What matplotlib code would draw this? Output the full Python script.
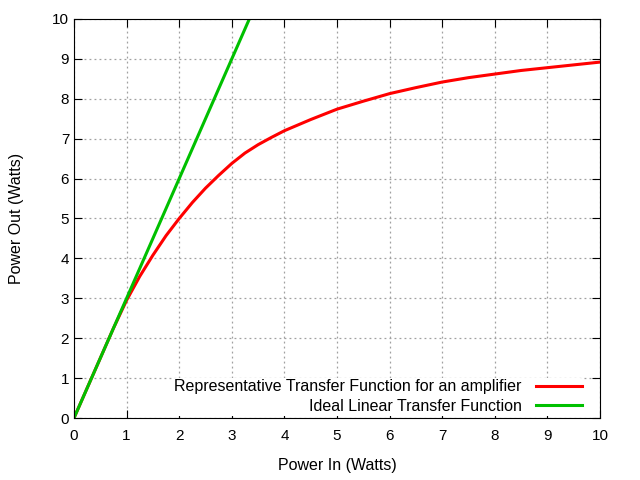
import matplotlib.pyplot as plt

plt.rcParams['font.family'] = ['Liberation Sans', 'DejaVu Sans']

# Representative amplifier transfer function
power_in = [0, 0.25, 0.5, 0.75, 1.0, 1.25, 1.5, 1.75, 2.0, 2.25, 2.5, 2.75,
            3.0, 3.25, 3.5, 3.75, 4.0, 4.5, 5.0, 5.5, 6.0, 6.5, 7.0, 7.5,
            8.0, 8.5, 9.0, 9.5, 10.0]
power_out = [0, 0.75, 1.5, 2.25, 2.95, 3.55, 4.08, 4.57, 5.0, 5.4, 5.76, 6.08,
             6.38, 6.64, 6.85, 7.03, 7.2, 7.48, 7.74, 7.94, 8.13, 8.28, 8.42, 8.53,
             8.62, 8.71, 8.78, 8.85, 8.92]

# Ideal linear transfer function
ideal_in = [0, 10 / 3]
ideal_out = [0, 10]

fig = plt.figure(figsize=(6.4, 4.8), dpi=100)
ax = fig.add_axes([74 / 640, 62 / 480, 526 / 640, 399 / 480])

ax.plot(power_in, power_out, color="#ff0000", linewidth=2.2,
        label="Representative Transfer Function for an amplifier")
ax.plot(ideal_in, ideal_out, color="#00c000", linewidth=2.2,
        label="Ideal Linear Transfer Function")

ax.set_xlim(0, 10)
ax.set_ylim(0, 10)
ax.set_xticks(range(0, 11))
ax.set_yticks(range(0, 11))
ax.tick_params(direction="in", length=6, top=True, right=True, labelsize=11)
ax.tick_params(axis="x", pad=8)
ax.grid(True, color="#a0a0a0", linestyle=(0, (1.5, 2.5)), linewidth=0.9)
ax.set_axisbelow(True)

ax.set_xlabel("Power In (Watts)", fontsize=11.5, labelpad=11)
ax.set_ylabel("Power Out (Watts)", fontsize=11.5, labelpad=20)

# legend: labels right-aligned, sample line to the right, white box, no frame
leg = ax.legend(loc="lower right", bbox_to_anchor=(0.969, 0.006),
                frameon=True, markerfirst=False,
                fontsize=11.5, handlelength=2.9, handletextpad=0.9,
                borderaxespad=0, borderpad=0.1, labelspacing=0.3,
                edgecolor="none", framealpha=1)
leg.get_frame().set_linewidth(0)
for t in leg.get_texts():
    t.set_ha("right")

plt.savefig("out.png")
